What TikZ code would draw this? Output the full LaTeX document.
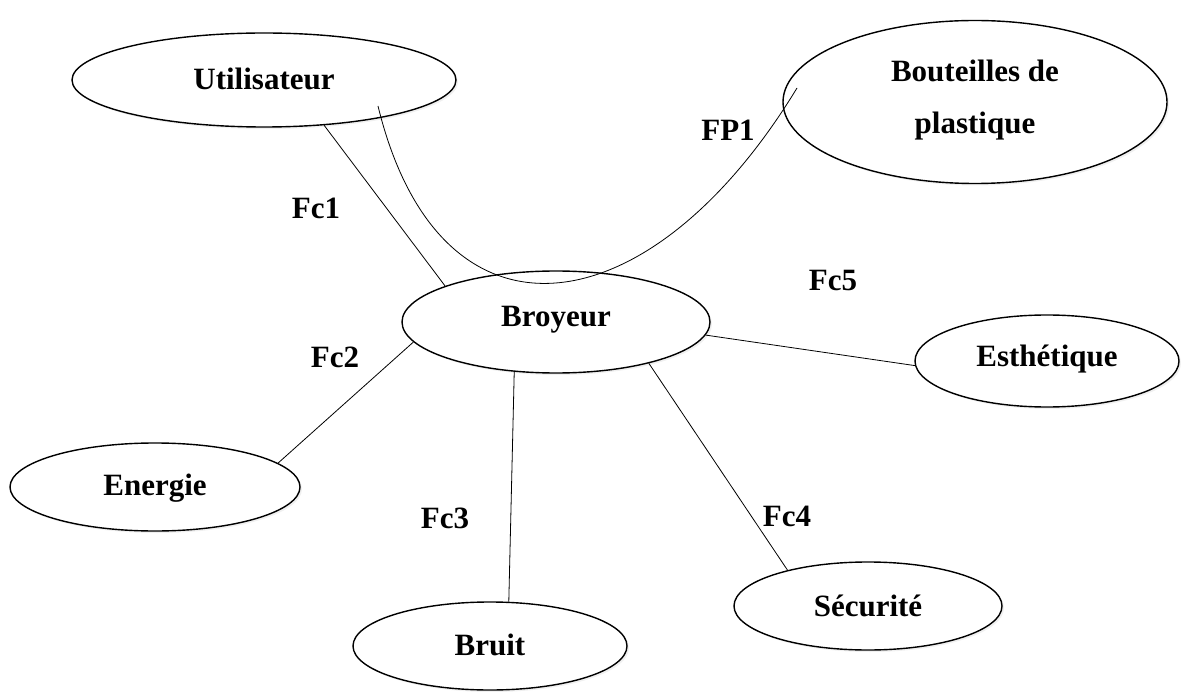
\documentclass[tikz,border=0pt]{standalone}
\usepackage{fontspec}
\setmainfont{Liberation Serif}
\usetikzlibrary{shapes.geometric,shadows}
\tikzset{
  ell/.style={ellipse, draw=black, line width=1.4pt, fill=white, inner sep=0pt,
    drop shadow={opacity=0.12, shadow xshift=2pt, shadow yshift=-2pt}},
  lbl/.style={font=\fontsize{31}{38}\selectfont\bfseries, align=center, inner sep=0pt},
  conn/.style={line width=0.8pt, draw=black}
}
\begin{document}
\begin{tikzpicture}[x=1pt,y=-1pt]
\useasboundingbox (0,0) rectangle (1188,692);
% ellipses
\node[ell, minimum width=384pt, minimum height=94pt] (u) at (264,80) {};
\node[lbl] (ut) at (264,79) {Utilisateur};
\node[ell, minimum width=384pt, minimum height=163pt] (bp) at (975,102) {};
\node[lbl] (bpt) at (975,100) {Bouteilles de\\[14pt]plastique};
\node[ell, minimum width=308pt, minimum height=102pt] (b) at (556,322) {};
\node[lbl] (bt) at (556,320) {Broyeur};
\node[ell, minimum width=290pt, minimum height=88pt] (e) at (155,487) {};
\node[lbl] (et) at (155,488) {Energie};
\node[ell, minimum width=274pt, minimum height=88pt] (br) at (490,646) {};
\node[lbl] (brt) at (490,645) {Bruit};
\node[ell, minimum width=268pt, minimum height=88pt] (s) at (868,606) {};
\node[lbl] (st) at (868,606) {Sécurité};
\node[ell, minimum width=264pt, minimum height=92pt] (es) at (1047,361) {};
\node[lbl] (est) at (1047,359) {Esthétique};
% connectors
\draw[conn] (u.-37) -- (b.162);
\draw[conn] (b.-172) -- (e.11);
\draw[conn] (b.-130.6) -- (br.67.6);
\draw[conn] (b.-24) -- (s.156.2);
\draw[conn] (b.-5) -- (es.-178);
\coordinate (cs) at (378,106);
\coordinate (ce) at (797,88);
\draw[conn] (cs) .. controls (440,360) and (650,330) .. (ce);
% labels
\node[lbl] (l1) at (316,208) {Fc1};
\node[lbl] (l0) at (728,130) {FP1};
\node[lbl] (l5) at (833,281) {Fc5};
\node[lbl] (l2) at (335,357) {Fc2};
\node[lbl] (l3) at (445,518) {Fc3};
\node[lbl] (l4) at (787,516) {Fc4};
\end{tikzpicture}
\end{document}
